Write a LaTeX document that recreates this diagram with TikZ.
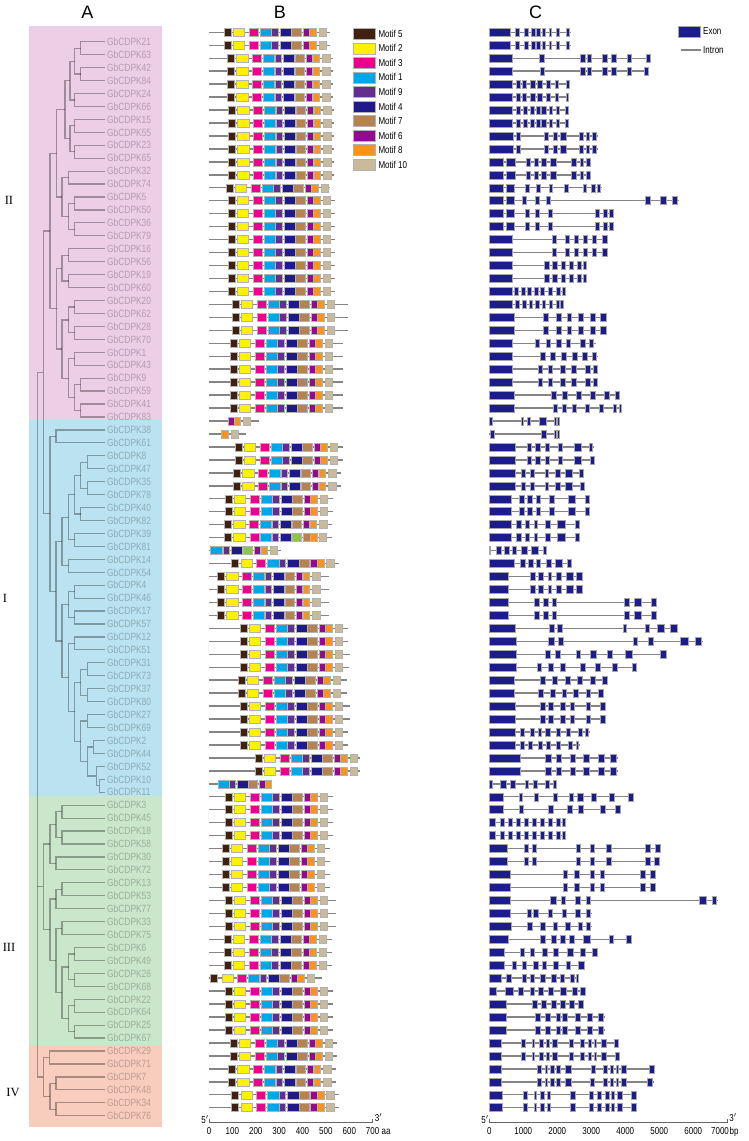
\documentclass[tikz,border=0pt]{standalone}
\usepackage{fontspec}
\setmainfont{Liberation Sans}
\newfontfamily\nar[FakeStretch=0.8]{Liberation Sans}
\newfontfamily\tms{Liberation Serif}
\usetikzlibrary{calc}
\definecolor{m5}{HTML}{40200F}
\definecolor{m2}{HTML}{FFF200}
\definecolor{m3}{HTML}{EC008C}
\definecolor{m1}{HTML}{00A6E6}
\definecolor{m9}{HTML}{662D91}
\definecolor{m4}{HTML}{1F1A8A}
\definecolor{m7}{HTML}{B4834F}
\definecolor{m6}{HTML}{93098F}
\definecolor{m8}{HTML}{F7941D}
\definecolor{m10}{HTML}{C9BA9B}
\definecolor{mg}{HTML}{8DC63F}
\definecolor{exonc}{HTML}{1C1C8C}
\definecolor{bgpink}{HTML}{ECCEE6}
\definecolor{bgblue}{HTML}{BAE2F0}
\definecolor{bggreen}{HTML}{CAE6CB}
\definecolor{bgorange}{HTML}{F8CDBE}
\tikzset{
  treeline/.style={draw=black, draw opacity=0.32, line width=1.2pt},
  leaflab/.style={anchor=west, inner sep=0pt, font=\nar\fontsize{10.5}{12}\selectfont, text=black, text opacity=0.24},
  motif/.style={draw=black!30, line width=0.5pt},
  backbone/.style={draw=black!48, line width=1.4pt},
  exon/.style={draw=black!35, fill=exonc, line width=0.5pt},
  intron/.style={draw=black!48, line width=1.4pt},
  smalltxt/.style={inner sep=0pt, font=\nar\fontsize{10}{12}\selectfont},
  head/.style={inner sep=0pt, font=\fontsize{18}{20}\selectfont},
  grp/.style={inner sep=0pt, font=\tms\fontsize{12.5}{14}\selectfont},
}
\newcommand\clade[4]{%
  \draw[treeline] let \p1=(#3), \p2=(#4) in (\x1,\y1) -- ({#2pt},\y1) -- ({#2pt},\y2) -- (\x2,\y2);
  \path let \p1=(#3), \p2=(#4) in ({#2pt},{0.5*(\y1+\y2)}) coordinate (#1);
}
\newcommand\stdmotifs[2]{%
  \foreach \ms/\me/\mc in {0/7/m5,9.3/20.7/m2,25/34/m3,36/47.3/m1,47.7/54/m9,56/67.3/m4,67.7/77.3/m7,79/85.3/m6,85.7/92.3/m8,95/102.7/m10}{%
    \draw[motif,fill=\mc] ({#2+\ms},{#1-4}) rectangle ({#2+\me},{#1+4});}%
}
\newcommand\brow[3]{%
  \pgfmathsetmacro\yy{-(32.3+(#1-1)*12.957)}%
  \draw[backbone] (208.5,\yy) -- (#3,\yy);
  \stdmotifs{\yy}{#2}}
\newcommand\bline[2]{%
  \pgfmathsetmacro\yy{-(32.3+(#1-1)*12.957)}%
  \draw[backbone] (208.5,\yy) -- (#2,\yy);}
\newcommand\motbox[4]{% row, start, end, colour
  \pgfmathsetmacro\yy{-(32.3+(#1-1)*12.957)}%
  \draw[motif,fill=#4] (#2,{\yy-4}) rectangle (#3,{\yy+4});}
\newcommand\crow[3]{%
  \pgfmathsetmacro\yy{-(32.3+(#1-1)*12.957)}%
  \draw[intron] (489.3,\yy) -- (#2,\yy);
  \foreach \xs/\xe in {#3}{\draw[exon] (\xs,{\yy-4}) rectangle (\xe,{\yy+4});}}
\begin{document}
\begin{tikzpicture}[x=1pt,y=1pt]
\useasboundingbox (0,0) rectangle (749,-1141);
\fill[white] (0,0) rectangle (749,-1141);
% headings
\node[head] (hA) at (87.5,-12) {A};
\node[head] (hB) at (280,-12) {B};
\node[head] (hC) at (535.5,-12) {C};
% group backgrounds
\fill[bgpink] (29,-26) rectangle (162,-420);
\fill[bgblue] (29,-420) rectangle (162,-796);
\fill[bggreen] (29,-796) rectangle (162,-1045);
\fill[bgorange] (29,-1045) rectangle (162,-1127);
% group labels
\node[grp] (gII) at (9,-200) {II};
\node[grp] (gI) at (5,-598) {I};
\node[grp] (gIII) at (9,-947) {III};
\node[grp] (gIV) at (13,-1092) {IV};
% leaves
\foreach \i in {1,...,84}{\coordinate (l\i) at (105,{-(41.7+(\i-1)*12.94)});}
\foreach \i/\n in {1/21,2/63,3/42,4/84,5/24,6/66,7/15,8/55,9/23,10/65,11/32,12/74,13/5,14/50,15/36,16/79,17/16,18/56,19/19,20/60,21/20,22/62,23/28,24/70,25/1,26/43,27/9,28/59,29/41,30/83,31/38,32/61,33/8,34/47,35/35,36/78,37/40,38/82,39/39,40/81,41/14,42/54,43/4,44/46,45/17,46/57,47/12,48/51,49/31,50/73,51/37,52/80,53/27,54/69,55/2,56/44,57/52,58/10,59/11,60/3,61/45,62/18,63/58,64/30,65/72,66/13,67/53,68/77,69/33,70/75,71/6,72/49,73/26,74/68,75/22,76/64,77/25,78/67,79/29,80/71,81/7,82/48,83/34,84/76}{%
  \node[leaflab] (t\i) at (107,{-(41.7+(\i-1)*12.94)}) {GbCDPK\n};}
% tree group II
\clade{a1}{80.7}{l1}{l2}
\clade{a2}{80.7}{l3}{l4}
\clade{a3}{74.7}{a1}{a2}
\clade{a4}{74.7}{l5}{l6}
\clade{a5}{70}{a3}{a4}
\clade{a6}{74.7}{l7}{l8}
\clade{a7}{74.7}{l9}{l10}
\clade{a8}{70}{a6}{a7}
\clade{a9}{65}{a5}{a8}
\clade{a10}{68.7}{l11}{l12}
\clade{a11}{74.7}{l13}{l14}
\clade{a12}{74.7}{l15}{l16}
\clade{a13}{68.7}{a11}{a12}
\clade{a14}{62}{a10}{a13}
\clade{a15}{56.7}{a9}{a14}
\clade{a16}{68.7}{l17}{l18}
\clade{a17}{68.7}{l19}{l20}
\clade{a18}{62}{a16}{a17}
\clade{a19}{74.7}{l21}{l22}
\clade{a20}{74.7}{l23}{l24}
\clade{a21}{68.7}{a19}{a20}
\clade{a22}{74.7}{l25}{l26}
\clade{a23}{80.7}{l27}{l28}
\clade{a24}{80.7}{l29}{l30}
\clade{a25}{74.7}{a23}{a24}
\clade{a26}{68.7}{a22}{a25}
\clade{a27}{62}{a21}{a26}
\clade{a28}{56.7}{a18}{a27}
\clade{a29}{50}{a15}{a28}
% tree group I
\clade{b1}{56}{l31}{l32}
\clade{b2}{87.3}{l33}{l34}
\clade{b3}{87.3}{l35}{l36}
\clade{b4}{80.7}{b2}{b3}
\clade{b5}{80.7}{l37}{l38}
\clade{b6}{74.7}{b4}{b5}
\clade{b7}{74.7}{l39}{l40}
\clade{b8}{68.7}{b6}{b7}
\clade{b9}{68.7}{l41}{l42}
\clade{b10}{62}{b8}{b9}
\clade{b11}{74.7}{l43}{l44}
\clade{b12}{74.7}{l45}{l46}
\clade{b13}{68.7}{b11}{b12}
\clade{b14}{74.7}{l47}{l48}
\clade{b15}{87.3}{l49}{l50}
\clade{b16}{87.3}{l51}{l52}
\clade{b17}{80.7}{b15}{b16}
\clade{b18}{87.3}{l53}{l54}
\clade{b19}{99.3}{l58}{l59}
\clade{b20}{96.3}{l57}{b19}
\clade{b21}{93.3}{l55}{l56}
\clade{b22}{87.3}{b21}{b20}
\clade{b23}{80.7}{b18}{b22}
\clade{b24}{74.7}{b17}{b23}
\clade{b25}{68.7}{b14}{b24}
\clade{b26}{62}{b13}{b25}
\clade{b27}{56}{b10}{b26}
\clade{b28}{50}{b1}{b27}
\clade{c1}{43.3}{a29}{b28}
% tree group III
\clade{d1}{62}{l60}{l61}
\clade{d2}{62}{l62}{l63}
\clade{d3}{56}{d1}{d2}
\clade{d4}{56}{l64}{l65}
\clade{d5}{50}{d3}{d4}
\clade{d6}{62}{l66}{l67}
\clade{d7}{56}{d6}{l68}
\clade{d8}{62}{l69}{l70}
\clade{d9}{74.7}{l71}{l72}
\clade{d10}{74.7}{l73}{l74}
\clade{d11}{68.7}{d9}{d10}
\clade{d12}{74.7}{l75}{l76}
\clade{d13}{74.7}{l77}{l78}
\clade{d14}{68.7}{d12}{d13}
\clade{d15}{62}{d11}{d14}
\clade{d16}{56}{d8}{d15}
\clade{d17}{50}{d7}{d16}
\clade{d18}{43.3}{d5}{d17}
% tree group IV
\clade{e1}{49.3}{l79}{l80}
\clade{e2}{56}{l81}{l82}
\clade{e3}{56}{l83}{l84}
\clade{e4}{50}{e2}{e3}
\clade{e5}{43.3}{e1}{e4}
% root
\clade{root}{37.3}{c1}{e5}
\draw[treeline] let \p1=(d18) in (37.3pt,\y1) -- (\p1);
% ---------------- B : motifs
\foreach \i/\bb/\ee in {1/224/330,2/224/330,3/227.3/333.3,4/227.3/333.3,5/227.3/333.3,6/227.3/333.3,
  7/228.3/334.3,8/228.3/334.3,9/228.3/334.3,10/228.3/334.3,11/228.3/334.3,12/228.3/334.3,
  13/226/330,14/228/335,15/228/335,16/228/335,17/228/335,18/228/335,19/228/335,20/228/335,21/228/335,
  22/232/348,23/232/348,24/232/348,25/230/343,26/230/343,27/230/343,28/230/343,29/230/343,30/230/343,
  33/235/343.3,34/235/343.3,35/233.3/341,36/233.3/341,37/225/333.3,38/225/333.3,39/224.3/332.3,
  42/231.7/339,43/217.3/329.3,44/217.3/329.3,45/217.3/329.3,46/217.3/329.3,
  47/240/348,48/240/348,49/240/350,50/240/349,51/238/347,52/238/347,53/240/350,54/240/350,
  55/240/348,56/240/348,57/255/360,58/255/360,
  60/225/333,61/225/333,62/225/333,63/225/333,64/222/330,65/222/330,66/222/330,67/222/330,
  68/225/336,69/225/336,70/225/336,71/224/332,72/224/332,73/224/332,
  75/225/333,76/225/333,77/225/333,78/225/333,
  79/230/337.3,80/230/337.3,81/228.3/336,82/228.3/336,83/231.7/339.3,84/231.7/339.3}{%
  \brow{\i}{\bb}{\ee}}
% special rows
\bline{31}{259}
\motbox{31}{228.3}{234.3}{m6}\motbox{31}{234.3}{240.7}{m8}\motbox{31}{243.3}{250.3}{m10}
\bline{32}{246}
\motbox{32}{221.7}{228.3}{m8}\motbox{32}{231}{238}{m10}
\bline{40}{332.3}
\motbox{40}{224.3}{231}{m5}\motbox{40}{233.7}{245.3}{m2}\motbox{40}{250}{259}{m3}\motbox{40}{260}{271.7}{m1}
\motbox{40}{272.7}{278.7}{m9}\motbox{40}{280.7}{291.7}{m4}\motbox{40}{292.7}{301.7}{mg}\motbox{40}{303.3}{310.7}{m7}
\motbox{40}{310.7}{317.3}{m8}\motbox{40}{319.3}{326.7}{m10}
\bline{41}{280.7}
\motbox{41}{210.7}{222.3}{m1}\motbox{41}{223.3}{229.3}{m9}\motbox{41}{231}{242.3}{m4}\motbox{41}{243.3}{252.7}{mg}
\motbox{41}{254}{260}{m6}\motbox{41}{261}{267.7}{m8}\motbox{41}{270}{277.3}{m10}
\bline{59}{272}
\motbox{59}{218}{229}{m1}\motbox{59}{229.5}{235.5}{m9}\motbox{59}{237}{248}{m4}\motbox{59}{248.5}{257}{m7}
\motbox{59}{259}{265}{m6}\motbox{59}{265.5}{271}{m8}
\bline{74}{322}
\motbox{74}{210}{217}{m5}\motbox{74}{222}{233}{m2}\motbox{74}{237}{246}{m3}\motbox{74}{248}{259.5}{m1}
\motbox{74}{260}{266}{m9}\motbox{74}{268}{279}{m4}\motbox{74}{279.5}{289}{m7}\motbox{74}{291}{297}{m6}
\motbox{74}{297.5}{304}{m8}\motbox{74}{307}{314}{m10}
% legend B
\foreach \k/\c/\t in {0/m5/5,1/m2/2,2/m3/3,3/m1/1,4/m9/9,5/m4/4,6/m7/7,7/m6/6,8/m8/8,9/m10/10}{%
  \draw[motif,fill=\c] (353.3,{-(33.7+\k*14.55)+5.5}) rectangle (375.7,{-(33.7+\k*14.55)-5.5});
  \node[smalltxt,anchor=west] (lg\t) at (378.3,{-(33.7+\k*14.55)}) {Motif \t};}
% axis B
\draw[draw=black!60, line width=0.8pt] (209,-1119) -- (209,-1122.5) -- (372.7,-1122.5) -- (372.7,-1119);
\node[smalltxt] (b5p) at (205,-1119.5) {5$'$};
\node[smalltxt] (b3p) at (378.5,-1117.5) {3$'$};
\foreach \v in {0,100,...,700}{\node[smalltxt] (bx\v) at ({209+\v*0.2338},-1131) {\v};}
\node[smalltxt,anchor=west] (baa) at (381.5,-1131.5) {aa};
% ---------------- C : gene structure
\crow{1}{570.7}{489.3/510.7,515/519,524/528.3,531/535,536.7/540,542/545.3,549/551.7,556.7/559.3,566.7/569.3}
\crow{2}{570.7}{489.3/510.7,515/519,524/528.3,531/535,536.7/540,542/545.3,549/551.7,556.7/559.3,566.7/569.3}
\crow{3}{650.7}{489.3/512.7,539.3/544,580.7/585.3,587.3/591.3,602.7/607.7,611.7/616,627.3/631.3,646/650}
\crow{4}{649}{489.3/512.7,540/544.7,580.7/585.3,587.3/591.3,602.7/607.7,611.7/616,627.3/631.3,644/648.3}
\crow{5}{570}{489.3/512.7,516/520,522.7/526,530/535,537.7/542.7,546.7/550.7,555/558.3,566/569.3}
\crow{6}{569}{489.3/512.7,516/520,522.7/526,530/535,537.7/542.7,546.7/550.7,555/558.3,566/568.7}
\crow{7}{569}{489.3/512.7,516.7/520.7,523.3/527.3,530/534,536.7/540.7,541.7/546,549.3/552.7,556/559.3,565.3/568.7}
\crow{8}{569}{489.3/512.7,516.7/520.7,523.3/527.3,530/534,536.7/540.7,541.7/546,549.3/552.7,556/559.3,565.3/568.7}
\crow{9}{597.7}{489.3/513.3,516.7/520.7,544/548.3,553.3/557.3,560.7/566,579.3/583.3,586/589.3,592.7/596.7}
\crow{10}{597.7}{489.3/513.3,516.7/520.7,544/548.3,553.3/557.3,560.7/566,579.3/583.3,586/589.3,592.7/596.7}
\crow{11}{590.7}{489.3/503.3,506.7/515.7,526.7/530.7,534/538.3,541.3/546,550.7/556,571.7/576,580/583.3,586.7/590}
\crow{12}{590.7}{489.3/503.3,506.7/515.7,526.7/530.7,534/538.3,541.3/546,550.7/556,571.7/576,580/583.3,586.7/590}
\crow{13}{601.7}{489.3/503.3,506/514.3,525/529.3,536.7/540.7,549.3/552.7,564/568.7,583.3/586.7,591.7/595,597.7/600.7}
\crow{14}{679}{489.3/503.3,506/514.3,522.7/526.7,535/539,546.7/550,645/650,660/666,672/677}
\crow{15}{613.5}{489.3/503.3,506/514.3,525/529,535/539,548/552,595/599.3,603/607.3,609/613}
\crow{16}{613.5}{489.3/503.3,506/514.3,525/529,535/539,548/552,595/599.3,603/607.3,609/613}
\crow{17}{608}{489.3/512.7,552/556.7,565.3/569.3,574/578,583/587,592/596,602/607.3}
\crow{18}{608}{489.3/512.7,552/556.7,565.3/569.3,574/578,583/587,592/596,602/607.3}
\crow{19}{586.7}{489.3/512.7,544.7/549,552.7/557,561.3/565.3,569.3/573.3,577.3/581.3,583/586}
\crow{20}{586.7}{489.3/512.7,544.7/549,552.7/557,561.3/565.3,569.3/573.3,577.3/581.3,583/586}
\crow{21}{565.7}{489.3/512.7,514.7/518.7,521/525,527.3/531.3,534/538,540.7/544.3,548/552,556.7/560.3,562/565}
\crow{22}{563.5}{489.3/512.7,515/519,522/526,529/532,535/539,542/545,549/552,556/559,560.7/563}
\crow{23}{607}{489.3/514,543/548,556/561,567.3/571.3,578/583,590/595,600/606}
\crow{24}{607}{489.3/514,543/548,556/561,567.3/571.3,578/583,590/595,600/606}
\crow{25}{595.5}{489.3/512.7,535/539,546/550,556/561,566/570,580/585,589/593}
\crow{26}{597.5}{489.3/512.7,540/545,550/555,561/566,572/577,582/587,592/596}
\crow{27}{598}{489.3/512.7,538/542,548/552,560/565,571/576,585/590,593/597}
\crow{28}{598}{489.3/512.7,538/542,548/552,560/565,571/576,585/590,593/597}
\crow{29}{620}{489.3/514.3,551/556,562/567,576/581,590/595,604/609,615/619}
\crow{30}{621.7}{489.3/514.3,553.3/557.3,562.3/566.7,572.7/576,585/589.3,599.3/603.3,613.3/616,619/621}
\crow{31}{560}{489.3/492.7,521.7/523.3,527.3/530,539.3/546,554/556.7,557.3/559.3}
\crow{32}{560}{490/494,541.7/546,554/556.7,557.3/559.3}
\crow{33}{594}{489.3/515.7,527.3/531.7,535/540,545.7/549,558.3/562.7,574.3/581.7,589.3/592.7}
\crow{34}{594.7}{489.3/515.7,527.3/531.7,535/540,545.7/549,558.3/562.7,574.3/581.7,590.7/594}
\crow{35}{584.3}{489.3/515,521/525.7,530/534.3,545/548.3,555/560,565.7/572.7,579.3/583.3}
\crow{36}{585}{489.3/515,521/525.7,530/534.3,545/548.3,555/560,565.7/572.7,580/584.3}
\crow{37}{590}{489.3/511.7,519.3/524,527.7/532.3,536/540,549/554.3,568.3/575.7,585/589.3}
\crow{38}{590}{489.3/511.7,519.3/524,527.7/532.3,536/540,549/554.3,568.3/575.7,585/589.3}
\crow{39}{580}{489.3/511,516.7/521,525/529.3,534.3/537.7,545/550,557.7/565,575/579}
\crow{40}{580}{489.3/511,516.7/521,525/529.3,534.3/537.7,545/550,557.7/565,575/579}
\crow{41}{547.3}{489.3/490,496.7/501,504.3/509,512.7/516,521.7/527.3,531/538.3,543.3/546.7}
\crow{42}{572}{489.3/514,520/525,528.3/533.3,536.7/540,546/551,555/562.7,567.7/571}
\crow{43}{583.3}{489.3/508.3,530/535,538.3/543.3,548.3/551.7,556.7/561.7,566/573.3,576.7/582.7}
\crow{44}{583.3}{489.3/508.3,530/535,538.3/543.3,548.3/551.7,556.7/561.7,566/573.3,576.7/582.7}
\crow{45}{657.3}{489.3/508.3,534.3/539.3,543.3/548.3,552.3/556,624/629.3,634/641.7,651.7/656.7}
\crow{46}{657.3}{489.3/508.3,534.3/539.3,543.3/548.3,552.3/556,624/629.3,634/641.7,651.7/656.7}
\crow{47}{678}{489.3/515,549/554,557/562,623/626,645/649,657/664,670/677}
\crow{48}{703}{489.3/516,548/554,558/563,633/637,648/653,680/688,695/701}
\crow{49}{667}{489.3/516,545/550,555/560,576/580,590/596,607/612,625/632,660/666}
\crow{50}{637}{489.3/516,537/541,548/553,560/565,580/585,595/600,612/617,632/636}
\crow{51}{608}{489.3/514,540/545,552/557,565/570,577/582,590/595,602/607}
\crow{52}{604}{489.3/514,538/543,550/555,562/566,573/578,586/590,598/603}
\crow{53}{606}{489.3/515,540/545,548/553,560/565,570/574,586/590,600/605}
\crow{54}{606}{489.3/515,540/545,548/553,560/565,570/574,586/590,600/605}
\crow{55}{590}{489.3/515,520/524,530/534,538/541,545/550,556/560,566/570,578/582,585/588}
\crow{56}{580}{489.3/515,520/524,528/532,538/542,546/550,556/560,568/572,576/578.5}
\crow{57}{618}{489.3/520,545/551,556/561,570/575,583/589,598/604,610/616}
\crow{58}{618}{489.3/520,545/551,556/561,570/575,583/589,598/604,610/616}
\crow{59}{557}{489.3/492,500/506,510/515,525/528,533/537,545/549,553/556}
\crow{60}{634}{489.3/503,519/522,534/538,553/557,569/573,577/583,591/596,609/614,628/633}
\crow{61}{621}{489.3/503,519/523,548/553,567/572,578/583,600/605,615/620}
\crow{62}{566}{489.3/495,500/504,508/512,516/520,524/528,532/536,540/544,548/552,556/560,562/565}
\crow{63}{566}{489.3/495,500/504,508/512,516/520,524/528,532/536,540/544,548/552,556/560,562/565}
\crow{64}{661}{489.3/507,524/528,532/536,576/580,590/594,606/611,645/650,655/660}
\crow{65}{660}{489.3/507,524/528,532/536,576/580,590/594,606/611,645/650,654/659}
\crow{66}{656}{489.3/510,563/567,574/579,590/594,600/604,640/645,650/655}
\crow{67}{656}{489.3/510,563/567,574/579,590/594,600/604,640/645,650/655}
\crow{68}{718}{489.3/510,550/556,561/565,575/580,586/590,699/706,712/716}
\crow{69}{592}{489.3/510,527/531,533/538,548/552,562/566,575/580,586/590}
\crow{70}{592}{489.3/511,527/532,540/545,553/557,565/570,578/582,586/590}
\crow{71}{632}{489.3/508,540/545,551/556,560/565,569/574,583/590,609/613,626/631}
\crow{72}{598}{489.3/504,520/524,530/534,542/547,553/558,567/573,580/585,592/597}
\crow{73}{585}{489.3/504,512/516,522/526,533/538,542/546,553/558,566/570,578/584}
\crow{74}{578}{489.3/501,506/511,522/526,530/534,540/545,551/556,560/564,570/574,576/578}
\crow{75}{586}{489.3/496,505/513,518/523,530/534,538/543,548/553,560/566,572/577,580/585}
\crow{76}{584}{489.3/506,532/537,541/546,551/556,560/565,569/574,578/583}
\crow{77}{605}{489.3/506,535/540,545/550,556/560,562/567,575/580,587/592,598/603}
\crow{78}{605}{489.3/506,535/540,545/550,556/560,562/567,575/580,587/592,598/603}
\crow{79}{619.3}{489.3/501,521.7/525.7,532.7/534,539.3/543.3,546/549.3,552.3/557.7,569.3/573.3,580/584,588.3/591.7,594/596.7,601/606,614.3/618.3}
\crow{80}{620}{489.3/501,521.7/525.7,532.7/534,539.3/543.3,546/549.3,552.3/557.7,569.3/573.3,580/584,588.3/591.7,594/596.7,601/606,615/619.3}
\crow{81}{655}{489.3/501,537.3/541.7,545.7/547,550.7/554,556.7/560,565/571,591.7/595.7,603.3/607.3,610/613.3,616.7/618.7,621/626.7,649/654}
\crow{82}{653.5}{489.3/501,537.3/541.7,545.7/547,550.7/554,556.7/560,565/571,590.7/594.7,603.3/607.3,610/613.3,616.7/618.7,621/626.7,647.3/652.7}
\crow{83}{637.3}{489.3/502.7,523.3/527.3,534/536,540.7/544,547.7/550.7,570/575,589.3/593.3,597.3/601,605.7/609,611.7/614,617.3/622.7,631.7/636.7}
\crow{84}{637.3}{489.3/502.7,523.3/527.3,534/536,540.7/544,547.7/550.7,570/575,589.3/593.3,597.3/601,605.7/609,611.7/614,617.3/622.7,631.7/636.7}
% legend C
\draw[exon] (678.3,-26.7) rectangle (700.7,-37.3);
\node[smalltxt,anchor=west] (lex) at (703,-31) {Exon};
\draw[intron] (680.7,-50) -- (700.7,-50);
\node[smalltxt,anchor=west] (lin) at (703,-50) {Intron};
% axis C
\draw[draw=black!60, line width=0.8pt] (489.3,-1119) -- (489.3,-1122.5) -- (727.3,-1122.5) -- (727.3,-1119);
\node[smalltxt] (c5p) at (485,-1119.5) {5$'$};
\node[smalltxt] (c3p) at (733,-1117.5) {3$'$};
\foreach \v in {0,1000,...,6000}{\node[smalltxt] (cx\v) at ({489.3+\v*0.034},-1131) {\v};}
\node[smalltxt] (cx7000) at (720,-1131) {7000};
\node[smalltxt,anchor=west] (cbp) at (729.5,-1131.5) {bp};
\end{tikzpicture}
\end{document}
